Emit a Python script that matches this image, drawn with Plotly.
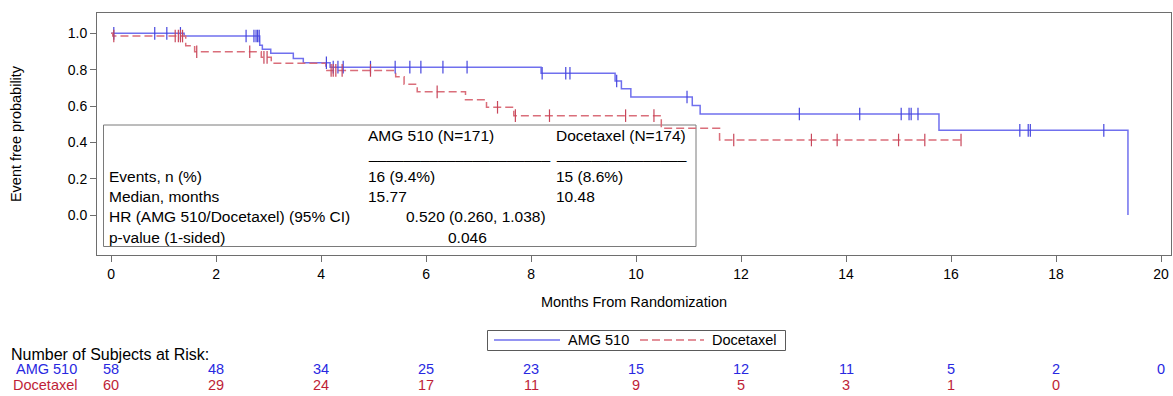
import numpy as np
import plotly.graph_objects as go

# ---- Kaplan-Meier estimates (months, event-free probability) ----
amg_event_t = [0.0, 1.39, 2.83, 2.88, 3.04, 3.47, 3.66, 4.17, 8.19, 9.60, 9.72, 9.90,
               11.07, 11.22, 15.77, 19.37]
amg_surv = [1.0, 0.985, 0.935, 0.912, 0.890, 0.862, 0.838, 0.814, 0.780, 0.738, 0.695,
            0.650, 0.603, 0.556, 0.466, 0.0]
amg_censor_t = [0.05, 0.83, 1.06, 1.32, 2.57, 2.72, 2.76, 2.79, 2.82, 4.10, 4.23, 4.32,
                4.42, 4.94, 5.41, 5.69, 5.90, 6.32, 6.78, 8.21, 8.66, 8.74, 9.63, 10.97,
                13.11, 14.26, 15.05, 15.20, 15.24, 15.37, 17.31, 17.47, 17.51, 18.91]

doc_event_t = [0.0, 0.03, 1.42, 1.59, 2.86, 3.05, 4.09, 5.42, 5.58, 5.83, 6.75, 7.15,
               7.67, 10.48, 11.59]
doc_surv = [1.0, 0.985, 0.932, 0.899, 0.868, 0.836, 0.796, 0.761, 0.720, 0.678, 0.635,
            0.593, 0.547, 0.477, 0.413]
doc_censor_t = [0.05, 1.22, 1.28, 1.32, 1.36, 1.63, 2.64, 2.91, 2.97, 4.19, 4.23, 4.28,
                4.40, 4.94, 6.21, 7.36, 7.70, 8.35, 9.80, 10.34, 11.86, 13.34, 13.83,
                15.00, 15.50, 16.19]

# ---- numbers at risk ----
risk_months = [0, 2, 4, 6, 8, 10, 12, 14, 16, 18, 20]
amg_at_risk = [58, 48, 34, 25, 23, 15, 12, 11, 5, 2, 0]
doc_at_risk = [60, 29, 24, 17, 11, 9, 5, 3, 1, 0]

# ---- summary statistics box ----
stat_header = ["AMG 510 (N=171)", "Docetaxel (N=174)"]
stat_rows = ["Events, n (%)", "Median, months", "HR (AMG 510/Docetaxel) (95% CI)",
             "p-value (1-sided)"]
events_txt = ["16 (9.4%)", "15 (8.6%)"]
median_txt = ["15.77", "10.48"]
hr_txt = "0.520 (0.260, 1.038)"
pval_txt = "0.046"

x_ticks = list(range(0, 21, 2))
y_ticks = [0.0, 0.2, 0.4, 0.6, 0.8, 1.0]

BLUE_LINE = "rgb(112,112,238)"
BLUE_MARK = "rgb(70,70,222)"
BLUE_TEXT = "rgb(40,40,225)"
RED_LINE = "rgb(218,110,122)"
RED_MARK = "rgb(200,70,90)"
RED_TEXT = "rgb(190,30,55)"
FONT = "Liberation Sans, Arial, sans-serif"

W, H = 1173, 396
L, R, T, B = 97, 2, 13, 141
PW, PH = W - L - R, H - T - B


def px_x(px):
    return (px - L) / PW


def px_y(py):
    return (H - B - py) / PH


def step_at(times, surv, t):
    i = np.searchsorted(np.asarray(times), t, side="right") - 1
    return float(np.asarray(surv)[i])


fig = go.Figure()

# step curves, extended to the last follow-up time
amg_x = amg_event_t + [max(amg_event_t[-1], amg_censor_t[-1])]
amg_y = amg_surv + [amg_surv[-1]]
doc_x = doc_event_t + [max(doc_event_t[-1], doc_censor_t[-1])]
doc_y = doc_surv + [doc_surv[-1]]

fig.add_trace(go.Scatter(x=amg_x, y=amg_y, mode="lines", line_shape="hv",
                         line=dict(color=BLUE_LINE, width=1.5), name="AMG 510",
                         showlegend=False, hoverinfo="skip"))
fig.add_trace(go.Scatter(x=doc_x, y=doc_y, mode="lines", line_shape="hv",
                         line=dict(color=RED_LINE, width=1.5, dash="8px,4px"),
                         name="Docetaxel", showlegend=False, hoverinfo="skip"))

# censoring marks
fig.add_trace(go.Scatter(
    x=amg_censor_t, y=[step_at(amg_event_t, amg_surv, t) for t in amg_censor_t],
    mode="markers", showlegend=False, hoverinfo="skip",
    marker=dict(symbol="line-ns", size=9, line=dict(color=BLUE_MARK, width=1.2))))
fig.add_trace(go.Scatter(
    x=doc_censor_t, y=[step_at(doc_event_t, doc_surv, t) for t in doc_censor_t],
    mode="markers", showlegend=False, hoverinfo="skip",
    marker=dict(symbol="line-ns", size=9, line=dict(color=RED_MARK, width=1.2))))

shapes = []
annotations = []


def text(x, y, s, color="black", anchor="left", xref="paper", size=15.5):
    annotations.append(dict(x=x, y=y, xref=xref, yref="paper", text=s, showarrow=False,
                            xanchor=anchor, yanchor="middle",
                            font=dict(family=FONT, size=size, color=color)))


# summary box (drawn beneath the curves)
shapes.append(dict(type="rect", xref="paper", yref="paper",
                   x0=px_x(103.5), x1=px_x(696), y0=px_y(246.5), y1=px_y(125),
                   line=dict(color="#7a7a7a", width=1), fillcolor="white", layer="below"))
col1, col2 = 366, 554
text(px_x(col1), px_y(135), stat_header[0])
text(px_x(col1), px_y(153), "_" * 21)
text(px_x(col2), px_y(135), stat_header[1])
text(px_x(col2), px_y(153), "_" * 15)
for row_txt, py in zip(stat_rows, [176, 196, 216, 237]):
    text(px_x(107), px_y(py), row_txt)
text(px_x(col1), px_y(176), events_txt[0])
text(px_x(col2), px_y(176), events_txt[1])
text(px_x(col1), px_y(196), median_txt[0])
text(px_x(col2), px_y(196), median_txt[1])
text(px_x(404), px_y(216), hr_txt)
text(px_x(446), px_y(237), pval_txt)

# legend
shapes.append(dict(type="rect", xref="paper", yref="paper",
                   x0=px_x(487.5), x1=px_x(785.5), y0=px_y(350.5), y1=px_y(330.5),
                   line=dict(color="#5a5a5a", width=1), fillcolor="white"))
shapes.append(dict(type="line", xref="paper", yref="paper",
                   x0=px_x(494), x1=px_x(560), y0=px_y(340), y1=px_y(340),
                   line=dict(color=BLUE_LINE, width=1.5)))
shapes.append(dict(type="line", xref="paper", yref="paper",
                   x0=px_x(640), x1=px_x(704), y0=px_y(340), y1=px_y(340),
                   line=dict(color=RED_LINE, width=1.5, dash="8px,4px")))
text(px_x(566), px_y(340), "AMG 510", size=14.5)
text(px_x(710), px_y(340), "Docetaxel", size=14.5)

# numbers at risk
text(px_x(9), px_y(354), "Number of Subjects at Risk:", size=16)
text(px_x(79), px_y(369), "AMG 510", color=BLUE_TEXT, anchor="right", size=14.5)
text(px_x(79), px_y(385), "Docetaxel", color=RED_TEXT, anchor="right", size=14.5)
for m, n in zip(risk_months, amg_at_risk):
    text(m, px_y(369), str(n), color=BLUE_TEXT, anchor="center", xref="x", size=14.5)
for m, n in zip(risk_months, doc_at_risk):
    text(m, px_y(385), str(n), color=RED_TEXT, anchor="center", xref="x", size=14.5)

fig.update_layout(
    width=W, height=H, margin=dict(l=L, r=R, t=T, b=B, autoexpand=False),
    paper_bgcolor="white", plot_bgcolor="white", showlegend=False,
    font=dict(family=FONT, size=13, color="black"),
    shapes=shapes, annotations=annotations,
    xaxis=dict(range=[-0.27, 20.19], tickvals=x_ticks, ticks="outside", ticklen=6,
               tickcolor="#6e6e6e", showgrid=False, zeroline=False, showline=True,
               mirror=True, linecolor="#6e6e6e", linewidth=1,
               tickfont=dict(family=FONT, size=14),
               title=dict(text="Months From Randomization", standoff=16,
                          font=dict(family=FONT, size=14.5))),
    yaxis=dict(range=[-0.22, 1.112], tickvals=y_ticks, tickformat=".1f", ticks="outside",
               ticklen=6, tickcolor="#6e6e6e", showgrid=False, zeroline=False,
               showline=True, mirror=True, linecolor="#6e6e6e", linewidth=1,
               tickfont=dict(family=FONT, size=14),
               title=dict(text="Event free probability", standoff=42,
                          font=dict(family=FONT, size=14.5))),
)

fig.write_html("out.html")
